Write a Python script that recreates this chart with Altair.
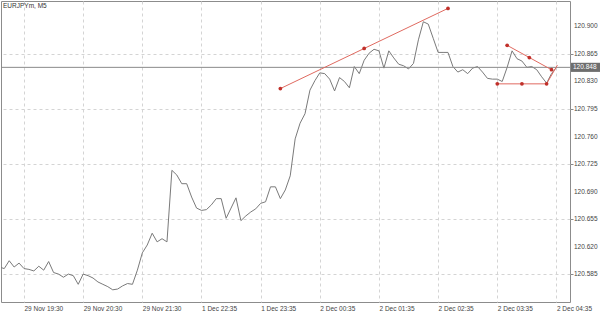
import altair as alt
import pandas as pd

# ---- data ----
closes = [
    120.594, 120.592, 120.602, 120.594, 120.599, 120.592, 120.591, 120.589, 120.595, 120.590,
    120.601, 120.587, 120.585, 120.581, 120.585, 120.583, 120.572, 120.585, 120.583, 120.580,
    120.575, 120.572, 120.569, 120.565, 120.566, 120.570, 120.573, 120.572, 120.590, 120.612,
    120.622, 120.637, 120.626, 120.630, 120.626, 120.717, 120.711, 120.700, 120.700, 120.683,
    120.669, 120.666, 120.667, 120.673, 120.681, 120.681, 120.656, 120.669, 120.682, 120.653,
    120.659, 120.664, 120.668, 120.675, 120.677, 120.696, 120.696, 120.681, 120.692, 120.710,
    120.757, 120.777, 120.789, 120.819, 120.831, 120.841, 120.840, 120.833, 120.818, 120.835,
    120.830, 120.822, 120.849, 120.840, 120.857, 120.866, 120.871, 120.869, 120.847, 120.869,
    120.860, 120.852, 120.850, 120.846, 120.853, 120.883, 120.906, 120.903, 120.885, 120.867,
    120.867, 120.867, 120.849, 120.842, 120.845, 120.840, 120.847, 120.849, 120.842, 120.834,
    120.833, 120.833, 120.830, 120.848, 120.869, 120.859, 120.856, 120.848, 120.849, 120.845,
    120.836, 120.828, 120.840, 120.848,
]
bars = list(range(len(closes)))

time_labels = ["29 Nov 19:30", "29 Nov 20:30", "29 Nov 21:30", "1 Dec 22:35", "1 Dec 23:35",
               "2 Dec 00:35", "2 Dec 01:35", "2 Dec 02:35", "2 Dec 03:35", "2 Dec 04:35"]
first_label_bar = 5
label_step = 12
grid_bars = [5, 11, 17, 23, 29, 35, 41, 47, 53, 59, 65, 71, 77, 83, 89, 95, 101, 107, 113]

price_ticks = [120.585, 120.620, 120.655, 120.690, 120.725, 120.760, 120.795, 120.830, 120.865, 120.900]
current_price = 120.848
symbol_title = "EURJPYm, M5"

# user-drawn trend lines (segment id, bar, price)
seg_id = ["a", "a", "b", "b", "c", "c", "d", "d"]
seg_bar = [57, 91, 103, 112, 101, 111, 111, 113.2]
seg_price = [120.821, 120.923, 120.876, 120.845, 120.827, 120.827, 120.827, 120.851]

handle_bar = [57, 74, 91, 103, 107.5, 112, 101, 106, 111]
handle_price = [120.821, 120.872, 120.923, 120.876, 120.8605, 120.845, 120.827, 120.827, 120.827]

# ---- tables ----
df = pd.DataFrame({"bar": bars, "close": closes})
seg_df = pd.DataFrame({"seg": seg_id, "bar": seg_bar, "price": seg_price})
hdl_df = pd.DataFrame({"bar": handle_bar, "price": handle_price})
tick_df = pd.DataFrame({"price": price_ticks, "txt": [f"{p:.3f}" for p in price_ticks]})
cur_df = pd.DataFrame({"price": [current_price], "lo": [current_price - 0.0058],
                       "hi": [current_price + 0.0058], "txt": [f"{current_price:.3f}"]})

FONT = "Liberation Sans"
label_arr = "[" + ",".join("'" + s + "'" for s in time_labels) + "]"
label_expr = (f"(datum.value - {first_label_bar}) % {label_step} == 0 ? "
              f"{label_arr}[(datum.value - {first_label_bar}) / {label_step}] : ''")

xscale = alt.Scale(domain=[0.335, 115.75], nice=False, zero=False)
yscale = alt.Scale(domain=[120.5495, 120.9324], nice=False, zero=False)

x_axis = alt.Axis(values=grid_bars, labelExpr=label_expr, grid=True, gridDash=[3, 3],
                  gridColor="#d4d4d4", domain=False, ticks=False, labelAlign="left",
                  labelPadding=3, labelFontSize=6.5, labelColor="#444444",
                  labelFont=FONT, title=None, labelOverlap=False, labelFlush=False)
y_axis = alt.Axis(orient="right", values=price_ticks, grid=True,
                  gridDash=[3, 3], gridColor="#d4d4d4", domain=False, tickSize=3,
                  tickColor="#888888", labels=False, title=None)

line = alt.Chart(df).mark_line(color="#7a7a7a", strokeWidth=1, clip=True).encode(
    x=alt.X("bar:Q", scale=xscale, axis=x_axis),
    y=alt.Y("close:Q", scale=yscale, axis=y_axis),
)

price_rule = alt.Chart(cur_df).mark_rule(color="#8a8a8a", strokeWidth=1).encode(
    y=alt.Y("price:Q", scale=yscale)
)

segs = alt.Chart(seg_df).mark_line(color="#e06a60", strokeWidth=1, clip=False).encode(
    x=alt.X("bar:Q", scale=xscale),
    y=alt.Y("price:Q", scale=yscale),
    detail="seg:N",
)

handles = alt.Chart(hdl_df).mark_circle(color="#c0302a", size=14, opacity=1).encode(
    x=alt.X("bar:Q", scale=xscale),
    y=alt.Y("price:Q", scale=yscale),
)

tick_labels = alt.Chart(tick_df).mark_text(color="#444444", fontSize=6.5, font=FONT,
                                           align="left", baseline="middle").encode(
    x=alt.value(573), y=alt.Y("price:Q", scale=yscale), text="txt:N"
)

tag = alt.Chart(cur_df).mark_rect(color="#6e6e6e", clip=False).encode(
    x=alt.value(570), x2=alt.value(599),
    y=alt.Y("lo:Q", scale=yscale), y2="hi:Q",
)
tag_text = alt.Chart(cur_df).mark_text(color="white", fontSize=6.5, font=FONT,
                                       align="left", baseline="middle").encode(
    x=alt.value(572), y=alt.Y("price:Q", scale=yscale), text="txt:N"
)

title = alt.Chart(pd.DataFrame({"t": [symbol_title]})).mark_text(
    color="#333333", fontSize=6.5, font=FONT, align="left", baseline="middle"
).encode(x=alt.value(2), y=alt.value(5), text="t:N")

chart = alt.layer(line, price_rule, segs, handles, tick_labels, tag, tag_text, title).properties(
    width=569, height=301,
    padding={"left": 1, "top": 1, "right": 30, "bottom": 15},
    autosize=alt.AutoSizeParams(type="none"),
    background="white",
).configure_view(stroke="#8c8c8c", strokeWidth=1).configure_axis(labelOverlap=False)

chart.save("out.html", embed_options={"renderer": "svg", "actions": False})
